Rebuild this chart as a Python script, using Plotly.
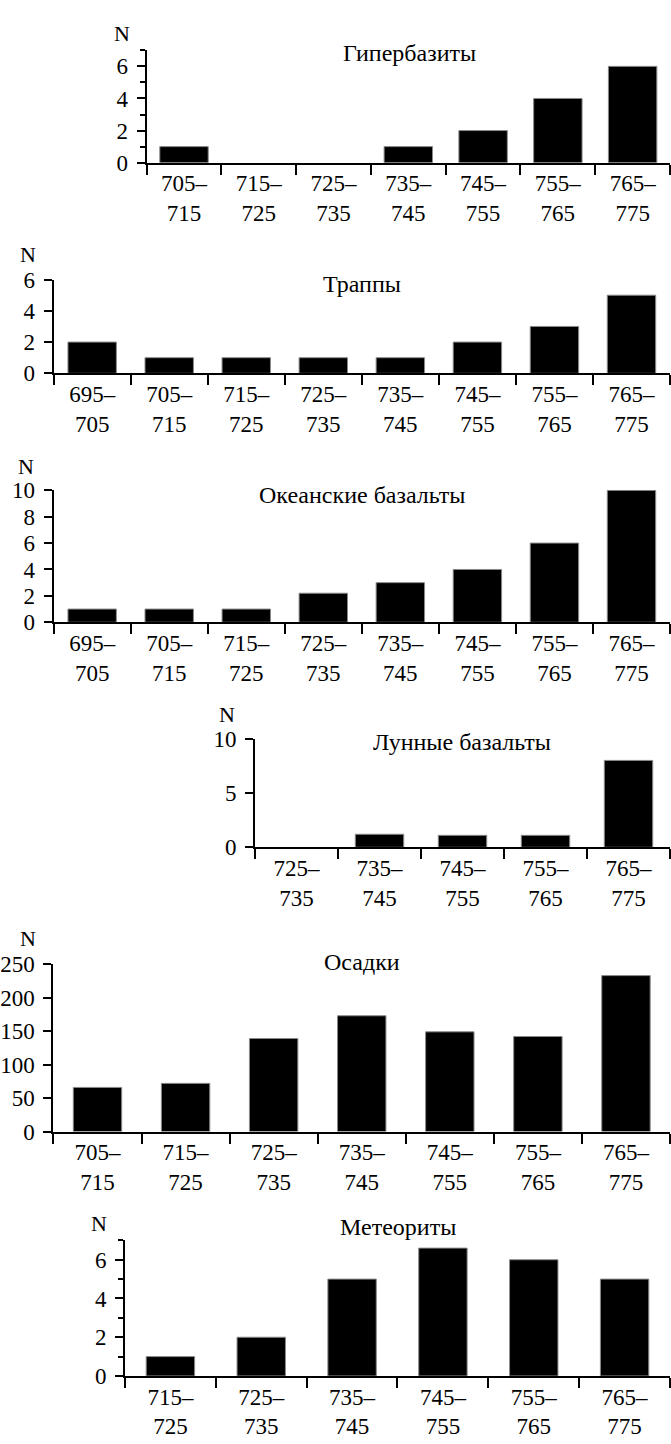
import plotly.graph_objects as go

W, H = 671, 1444

# ---------------- data ----------------
hyper_title = "Гипербазиты"
hyper_labels = ["705–<br>715", "715–<br>725", "725–<br>735", "735–<br>745", "745–<br>755", "755–<br>765", "765–<br>775"]
hyper_values = [1, 0, 0, 1, 2, 4, 6]

trap_title = "Траппы"
trap_labels = ["695–<br>705", "705–<br>715", "715–<br>725", "725–<br>735", "735–<br>745", "745–<br>755", "755–<br>765", "765–<br>775"]
trap_values = [2, 1, 1, 1, 1, 2, 3, 5]

ocean_title = "Океанские базальты"
ocean_labels = ["695–<br>705", "705–<br>715", "715–<br>725", "725–<br>735", "735–<br>745", "745–<br>755", "755–<br>765", "765–<br>775"]
ocean_values = [1, 1, 1, 2.2, 3, 4, 6, 10]

lunar_title = "Лунные базальты"
lunar_labels = ["725–<br>735", "735–<br>745", "745–<br>755", "755–<br>765", "765–<br>775"]
lunar_values = [0, 1.2, 1.1, 1.1, 8]

sed_title = "Осадки"
sed_labels = ["705–<br>715", "715–<br>725", "725–<br>735", "735–<br>745", "745–<br>755", "755–<br>765", "765–<br>775"]
sed_values = [66, 72, 139, 173, 149, 142, 233]

met_title = "Метеориты"
met_labels = ["715–<br>725", "725–<br>735", "735–<br>745", "745–<br>755", "755–<br>765", "765–<br>775"]
met_values = [1, 2, 5, 6.6, 6, 5]

# ---------------- layout (pixels) ----------------
FONT = "Liberation Serif, Times New Roman, serif"
panels = [
    dict(labels=hyper_labels, values=hyper_values, title=hyper_title, x0=140.3, x1=670, yt=39, yb=153.3,
         ymax=7, dtick=2, minor=1, npos=(115, 22), tpos=(406, 42)),
    dict(labels=trap_labels, values=trap_values, title=trap_title, x0=46.2, x1=670, yt=272.3, yb=367.7,
         ymax=6, dtick=2, minor=None, npos=(20, 247), tpos=(358, 277)),
    dict(labels=ocean_labels, values=ocean_values, title=ocean_title, x0=46.2, x1=670, yt=486.7, yb=621,
         ymax=10, dtick=2, minor=None, npos=(18, 462), tpos=(358, 492)),
    dict(labels=lunar_labels, values=lunar_values, title=lunar_title, x0=250, x1=670, yt=739.5, yb=850,
         ymax=10, dtick=5, minor=None, npos=(222, 715), tpos=(459, 743)),
    dict(labels=sed_labels, values=sed_values, title=sed_title, x0=46, x1=670, yt=969, yb=1139.3,
         ymax=250, dtick=50, minor=None, npos=(20, 943), tpos=(358, 967)),
    dict(labels=met_labels, values=met_values, title=met_title, x0=118.4, x1=670, yt=1250, yb=1388,
         ymax=7, dtick=2, minor=1, npos=(92, 1233), tpos=(395, 1236)),
]

BAR_PX = 49
TICK_SIZE = 23

fig = go.Figure()
layout = dict(
    width=W, height=H, margin=dict(l=0, r=0, t=0, b=0),
    paper_bgcolor="white", plot_bgcolor="white", showlegend=False,
    font=dict(family=FONT, size=TICK_SIZE, color="black"),
    annotations=[],
)

for i, p in enumerate(panels, start=1):
    n = len(p["labels"])
    cat_px = (p["x1"] - p["x0"]) / n
    xa = "x" if i == 1 else f"x{i}"
    ya = "y" if i == 1 else f"y{i}"
    fig.add_trace(go.Bar(
        x=p["labels"], y=p["values"], xaxis=xa, yaxis=ya,
        width=BAR_PX / cat_px,
        marker=dict(color="black",
                    line=dict(color="#8a8a8a", width=[1 if v > 0 else 0 for v in p["values"]])),
        hoverinfo="skip",
    ))
    xkey = "xaxis" if i == 1 else f"xaxis{i}"
    ykey = "yaxis" if i == 1 else f"yaxis{i}"
    layout[xkey] = dict(
        domain=[p["x0"] / W, p["x1"] / W], anchor=ya, type="category",
        showline=True, linewidth=2, linecolor="black", mirror=False,
        ticks="outside", tickson="boundaries", ticklen=10, tickwidth=2, tickcolor="black",
        showgrid=False, zeroline=False, fixedrange=True,
        tickfont=dict(family=FONT, size=TICK_SIZE, color="black"),
        ticklabelstandoff=-1,
    )
    yd = dict(
        domain=[1 - p["yb"] / H, 1 - p["yt"] / H], anchor=xa,
        range=[0, p["ymax"]], dtick=p["dtick"], tick0=0,
        showline=True, linewidth=2, linecolor="black",
        ticks="outside", ticklen=8, tickwidth=2, tickcolor="black",
        showgrid=False, zeroline=False, fixedrange=True,
        tickfont=dict(family=FONT, size=TICK_SIZE, color="black"),
        ticklabelstandoff=4,
    )
    if p["minor"]:
        yd["minor"] = dict(dtick=p["minor"], tick0=0, ticks="outside", ticklen=5,
                           tickwidth=2, tickcolor="black", showgrid=False)
    layout[ykey] = yd
    nx, ny = p["npos"]
    layout["annotations"].append(dict(
        text="N", x=nx / W, y=1 - ny / H, xref="paper", yref="paper",
        showarrow=False, xanchor="center", yanchor="middle",
        font=dict(family=FONT, size=22, color="black"),
    ))
    tx, ty = p["tpos"]
    layout["annotations"].append(dict(
        text=p["title"], x=tx / W, y=1 - ty / H, xref="paper", yref="paper",
        showarrow=False, xanchor="center", yanchor="middle",
        font=dict(family=FONT, size=24, color="black"),
    ))

fig.update_layout(**layout)
fig.write_html("out.html")
